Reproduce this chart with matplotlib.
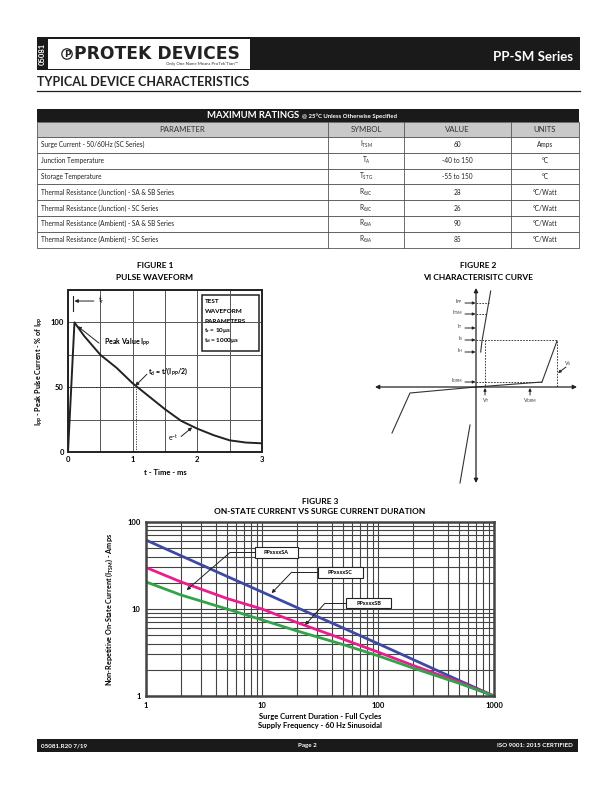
import matplotlib.pyplot as plt
from matplotlib.patches import Rectangle, Circle
from matplotlib.ticker import NullFormatter

plt.rcParams['font.family'] = ['Lato', 'DejaVu Sans']

W, H = 612, 792

# ---- table ----
tbl_params = ["Surge Current - 50/60Hz (SC Series)", "Junction Temperature", "Storage Temperature",
              "Thermal Resistance (Junction) - SA & SB Series", "Thermal Resistance (Junction) - SC Series",
              "Thermal Resistance (Ambient) - SA & SB Series", "Thermal Resistance (Ambient) - SC Series"]
tbl_sym = [("I", "TSM"), ("T", "A"), ("T", "STG"), ("R", r"\theta JC"), ("R", r"\theta JC"),
           ("R", r"\theta JA"), ("R", r"\theta JA")]
tbl_vals = ["60", "-40 to 150", "-55 to 150", "28", "26", "90", "85"]
tbl_units = ["Amps", "°C", "°C", "°C/Watt", "°C/Watt", "°C/Watt", "°C/Watt"]
tbl_heads = ["PARAMETER", "SYMBOL", "VALUE", "UNITS"]

# ---- figure 1: pulse waveform ----
pulse_t = [0, 0.1, 0.25, 0.5, 0.75, 1.0, 1.25, 1.5, 1.75, 2.0, 2.25, 2.5, 2.75, 3.0]
pulse_i = [0, 100, 89.5, 75, 65, 53, 43, 33, 24, 18, 13, 9, 7.3, 6.7]
t_half = 1.05

# ---- figure 2: VI curve (schematic units) ----
vi_pos_v = [0, 66, 81]
vi_pos_i = [0, 5, 46]
vi_neg_v = [0, -66, -84]
vi_neg_i = [0, -6, -46]
on_pos_v = [4.7, 6, 14.7]
on_pos_i = [35, 46, 96]
on_neg_v = [-6, -16]
on_neg_i = [-38, -96]
i_levels = [84, 73, 59, 47, 35, 5]
i_names = ["PP", "TSM", "T", "S", "H", "DRM"]
i_dash_to = [13, 10.7, None, 81, None, 66]

# ---- figure 3: surge current ----
cycles = [1, 2, 5, 10, 20, 50, 100, 200, 500, 1000]
amps_sa = [62, 41, 23.7, 15.7, 10.4, 6.05, 4.0, 2.63, 1.51, 1.0]
amps_sc = [30, 20.5, 13.2, 10, 7.0, 4.5, 3.2, 2.25, 1.45, 1.0]
amps_sb = [20.5, 14.5, 10, 7.5, 5.6, 3.9, 2.9, 2.1, 1.4, 1.0]

fig = plt.figure(figsize=(W / 100, H / 100), dpi=100)
page = fig.add_axes([0, 0, 1, 1])
page.set_xlim(0, W)
page.set_ylim(H, 0)
page.axis('off')


def ax_at(x0, y0, x1, y1):
    return fig.add_axes([x0 / W, 1 - y1 / H, (x1 - x0) / W, (y1 - y0) / H])


def box(x0, y0, x1, y1, **kw):
    page.add_patch(Rectangle((x0, y0), x1 - x0, y1 - y0, **kw))


# header
box(37, 37, 580, 70, color='#1a1a1a', lw=0)
box(48, 38.5, 250, 69, color='white', lw=0)
page.text(42.5, 53.5, "05081", rotation=90, color='white', fontsize=5.5, fontweight='bold',
          ha='center', va='center')
page.add_patch(Circle((67, 54), 5.2, fill=False, lw=0.9, ec='#222'))
page.text(67, 54.3, "P", fontsize=6.5, fontweight='bold', ha='center', va='center',
          family='DejaVu Sans', color='#222')
page.text(74, 54, "PROTEK DEVICES", fontsize=12.3, fontweight='bold', family='DejaVu Sans',
          ha='left', va='center', color='#222')
page.text(238, 64.5, "Only One Name Means ProTek'Tion™", fontsize=3.2, ha='right', va='center',
          color='#333')
page.text(573, 57, "PP-SM Series", color='white', fontsize=9.5, fontweight='bold', ha='right',
          va='center')

page.text(37, 82, "TYPICAL DEVICE CHARACTERISTICS", fontsize=9, fontweight='bold', ha='left',
          va='center', color='#222')
page.plot([37, 580], [90.5, 90.5], color='#222', lw=0.9)

# table
tx0, tx1 = 37, 579
cols = [tx0, 328, 404, 511, tx1]
box(tx0, 109, tx1, 122, color='#1a1a1a', lw=0)
page.text(299, 116, "MAXIMUM RATINGS", color='white', fontsize=6.8, fontweight='bold',
          ha='right', va='center')
page.text(302, 116.5, "@ 25°C Unless Otherwise Specified", color='white', fontsize=4.3,
          fontweight='bold', ha='left', va='center')
box(tx0, 122, tx1, 137, fc='#c9c9c9', ec='#555', lw=0.6)
for k, hd in enumerate(tbl_heads):
    page.text((cols[k] + cols[k + 1]) / 2, 129.8, hd, fontsize=5.6, ha='center', va='center',
              color='#333')
rh = 15.8
for r in range(len(tbl_params)):
    y0 = 137 + r * rh
    box(tx0, y0, tx1, y0 + rh, fc='white', ec='#555', lw=0.6)
    yc = y0 + rh / 2
    page.text(41, yc, tbl_params[r], fontsize=4.7, ha='left', va='center', color='#222')
    s, sub = tbl_sym[r]
    page.text(366, yc, r'%s$_{\mathregular{%s}}$' % (s, sub), fontsize=4.7, ha='center',
              va='center', color='#222')
    page.text(457.5, yc, tbl_vals[r], fontsize=4.7, ha='center', va='center', color='#222')
    page.text(545, yc, tbl_units[r], fontsize=4.7, ha='center', va='center', color='#222')
for c in cols[1:-1]:
    page.plot([c, c], [122, 137 + 7 * rh], color='#555', lw=0.6)

# ---------------- figure 1 ----------------
page.text(155, 266, "FIGURE 1", fontsize=6, fontweight='bold', ha='center', va='center')
page.text(155, 277, "PULSE WAVEFORM", fontsize=6, fontweight='bold', ha='center', va='center')
ax1 = ax_at(68, 290, 262, 452)
ax1.plot(pulse_t, pulse_i, color='#222', lw=1.4)
ax1.plot([0, t_half], [50, 50], color='#222', lw=0.6, ls=(0, (1.5, 1.5)))
ax1.plot([t_half, t_half], [0, 50], color='#222', lw=0.6, ls=(0, (1.5, 1.5)))
ax1.set_xlim(0, 3)
ax1.set_ylim(0, 125)
ax1.set_xticks([0, 1, 2, 3])
ax1.set_xticks([0.5, 1.5, 2.5], minor=True)
ax1.set_yticks([0, 50, 100])
ax1.set_yticks([25, 75, 125], minor=True)
ax1.grid(which='both', color='#555', lw=0.7)
ax1.tick_params(which='both', length=0, labelsize=5.5, pad=3)
for lab in ax1.get_xticklabels() + ax1.get_yticklabels():
    lab.set_fontweight('bold')
for sp in ax1.spines.values():
    sp.set_linewidth(1.4)
    sp.set_color('#222')
ax1.set_xlabel("t - Time - ms", fontsize=5.5, fontweight='bold', labelpad=4)
ax1.set_ylabel(r'I$_{\mathregular{PP}}$ - Peak Pulse Current - % of I$_{\mathregular{PP}}$',
               fontsize=5.2, fontweight='bold', labelpad=4)
ap = dict(arrowstyle='-|>', lw=0.7, color='#222', mutation_scale=5, shrinkA=0, shrinkB=0)
ax1.plot([0.08, 0.08], [109, 120], color='#222', lw=0.8)
ax1.annotate('', xy=(0.1, 116.5), xytext=(0.4, 116.5), arrowprops=ap)
ax1.text(0.47, 117, r't$_{\mathregular{r}}$', fontsize=5, ha='left', va='center')
ax1.annotate('', xy=(0.15, 97), xytext=(0.48, 84), arrowprops=ap)
ax1.text(0.55, 84.5, r'Peak Value I$_{\mathregular{PP}}$', fontsize=5, fontweight='bold',
         ha='left', va='center')
ax1.annotate('', xy=(1.04, 51), xytext=(1.22, 60), arrowprops=ap)
ax1.text(1.23, 62, r't$_{\mathregular{d}}$ = t/(I$_{\mathregular{PP}}$/2)', fontsize=5,
         fontweight='bold', ha='left', va='center')
ax1.annotate('', xy=(1.92, 19), xytext=(1.75, 12), arrowprops=ap)
ax1.text(1.62, 11, r'e$^{\mathregular{-t}}$', fontsize=5, ha='center', va='center')
ax1.add_patch(Rectangle((2.07, 78), 0.89, 43, fill=False, ec='#222', lw=1.1))
for yy, s in zip([116, 108.5, 101, 93.5, 86],
                 ["TEST", "WAVEFORM", "PARAMETERS", r't$_{\mathregular{r}}$ = 10µs',
                  r't$_{\mathregular{d}}$ = 1000µs']):
    ax1.text(2.11, yy, s, fontsize=4.6, fontweight='bold', ha='left', va='center')

# ---------------- figure 2 ----------------
page.text(478, 266, "FIGURE 2", fontsize=6, fontweight='bold', ha='center', va='center')
page.text(478, 277, "VI CHARACTERISITC CURVE", fontsize=6, fontweight='bold', ha='center',
          va='center')
ax2 = ax_at(360, 282, 590, 490)
ax2.set_xlim(-116, 114)
ax2.set_ylim(-103, 105)
ax2.axis('off')
axp = dict(arrowstyle='<|-|>', lw=0.9, color='#222', mutation_scale=6, shrinkA=0, shrinkB=0)
ax2.annotate('', xy=(-101, 0), xytext=(101, 0), arrowprops=axp)
ax2.annotate('', xy=(0, 99), xytext=(0, -96), arrowprops=axp)
ax2.plot(vi_pos_v, vi_pos_i, color='#333', lw=0.8)
ax2.plot(vi_neg_v, vi_neg_i, color='#333', lw=0.8)
ax2.plot(on_pos_v, on_pos_i, color='#333', lw=0.8)
ax2.plot(on_neg_v, on_neg_i, color='#333', lw=0.8)
sp = dict(arrowstyle='-|>', lw=0.7, color='#222', mutation_scale=4, shrinkA=0, shrinkB=0)
dsh = dict(color='#222', lw=0.6, ls=(0, (2, 1.5)))
for lv, nm, dto in zip(i_levels, i_names, i_dash_to):
    ax2.annotate('', xy=(-0.5, lv), xytext=(-11, lv), arrowprops=sp)
    ax2.text(-13, lv + 1, r'I$_{\mathregular{%s}}$' % nm, fontsize=3.8, ha='right', va='center',
             color='#333')
    if dto is not None:
        ax2.plot([0, dto], [lv, lv], **dsh)
ax2.plot([9, 9], [47, 0], **dsh)
ax2.plot([81, 81], [46, 0], **dsh)
ax2.annotate('', xy=(9, -1), xytext=(9, -8), arrowprops=sp)
ax2.text(9.5, -14, r'V$_{\mathregular{T}}$', fontsize=3.8, ha='center', va='center', color='#333')
ax2.annotate('', xy=(54, -1), xytext=(54, -8), arrowprops=sp)
ax2.text(54, -14, r'V$_{\mathregular{DRM}}$', fontsize=3.8, ha='center', va='center', color='#333')
ax2.annotate('', xy=(82, 14), xytext=(90, 20), arrowprops=sp)
ax2.text(92, 23, r'V$_{\mathregular{S}}$', fontsize=3.8, ha='center', va='center', color='#333')

# ---------------- figure 3 ----------------
page.text(320, 501, "FIGURE 3", fontsize=6, fontweight='bold', ha='center', va='center')
page.text(320, 512, "ON-STATE CURRENT VS SURGE CURRENT DURATION", fontsize=6, fontweight='bold',
          ha='center', va='center')
ax3 = ax_at(146, 522, 494, 696)
ax3.set_xscale('log')
ax3.set_yscale('log')
ax3.plot(cycles, amps_sa, color='#3c4aa3', lw=2)
ax3.plot(cycles, amps_sc, color='#ec1c8c', lw=2)
ax3.plot(cycles, amps_sb, color='#33a34a', lw=2)
ax3.set_xlim(1, 1000)
ax3.set_ylim(1, 100)
ax3.set_xticks([1, 10, 100, 1000])
ax3.set_xticklabels(["1", "10", "100", "1000"])
ax3.set_yticks([1, 10, 100])
ax3.set_yticklabels(["1", "10", "100"])
ax3.xaxis.set_minor_formatter(NullFormatter())
ax3.yaxis.set_minor_formatter(NullFormatter())
ax3.grid(which='both', color='#444', lw=0.8)
ax3.tick_params(which='both', length=0, labelsize=5.5, pad=4)
for lab in ax3.get_xticklabels() + ax3.get_yticklabels():
    lab.set_fontweight('bold')
for s3 in ax3.spines.values():
    s3.set_linewidth(1.8)
    s3.set_color('#444')
ax3.set_xlabel("Surge Current Duration - Full Cycles\nSupply Frequency - 60 Hz Sinusoidal",
               fontsize=5.5, fontweight='bold', labelpad=3, linespacing=1.4)
ax3.set_ylabel(r'Non-Repetitive On-State Current (I$_{\mathregular{TSM}}$) - Amps', fontsize=5.2,
               fontweight='bold', labelpad=9)

lp = dict(arrowstyle='-|>', lw=0.7, color='#222', mutation_scale=5, shrinkA=0, shrinkB=0)
labels3 = [("PPxxxxSA", 8.7, 20.4, 38.6, 51.6, 5.3, (2.24, 16.5)),
           ("PPxxxxSC", 30.4, 74, 22.9, 30.6, 18, (12.1, 15.2)),
           ("PPxxxxSB", 53.5, 130, 10.2, 13.3, 34.9, (23.5, 6.55))]
for nm, bx0, bx1, by0, by1, kx, tip in labels3:
    ax3.add_patch(Rectangle((bx0, by0), bx1 - bx0, by1 - by0, fc='white', ec='#222', lw=0.8,
                            zorder=5))
    ym = (by0 * by1) ** 0.5
    ax3.text((bx0 * bx1) ** 0.5, ym, nm, fontsize=4, fontweight='bold', ha='center',
             va='center', zorder=6)
    ax3.plot([bx0, kx], [ym, ym], color='#222', lw=0.7, zorder=5)
    ax3.annotate('', xy=tip, xytext=(kx, ym), arrowprops=lp, zorder=5)

# footer
box(37, 739, 578, 752, color='#1a1a1a', lw=0)
page.text(41, 745.5, "05081.R20 7/19", color='white', fontsize=4.5, fontweight='bold',
          ha='left', va='center')
page.text(307, 745.5, "Page 2", color='white', fontsize=4.5, fontweight='bold', ha='center',
          va='center')
page.text(573, 745.5, "ISO 9001: 2015 CERTIFIED", color='white', fontsize=4.5, fontweight='bold',
          ha='right', va='center')

fig.savefig("out.png", dpi=100)
